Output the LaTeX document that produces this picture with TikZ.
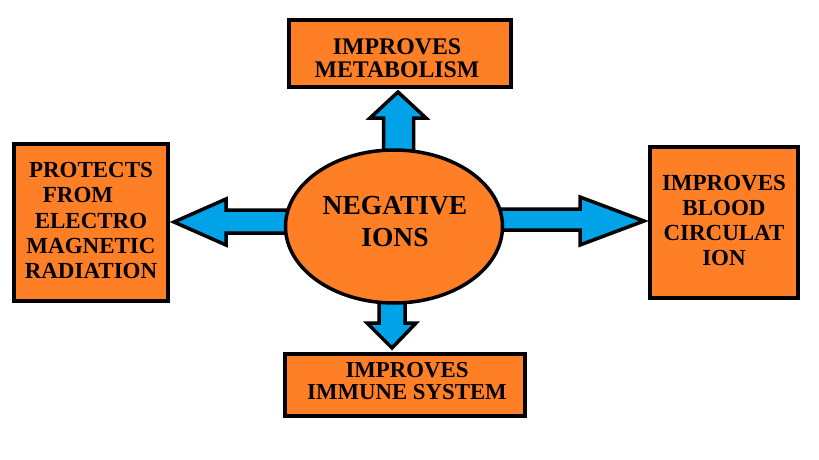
\documentclass[tikz,border=0pt]{standalone}
\usepackage{fontspec}
\setmainfont{Liberation Serif}
\usetikzlibrary{shapes.geometric,calc}
\definecolor{ionorange}{HTML}{FF7F27}
\definecolor{ionblue}{HTML}{00A2E8}
\begin{document}
\begin{tikzpicture}[x=1pt,y=-1pt,
  box/.style={draw=black, fill=ionorange, line width=4.5pt, inner sep=0pt},
  boxtext/.style={inner sep=0pt, align=center, font=\fontsize{23}{25.3}\selectfont\bfseries},
  blockarrow/.style={draw=black, fill=ionblue, line width=3.5pt, line join=miter},
  hub/.style={ellipse, draw=black, fill=ionorange, line width=3.5pt, inner sep=0pt,
    minimum width=217pt, minimum height=153pt}]
\useasboundingbox (0,0) rectangle (819,460);
\fill[white] (0,0) rectangle (819,460);

% block arrows
\draw[blockarrow] (383.5,165) -- (383.5,118) -- (370,118) -- (398,92) -- (426,118) -- (413.5,118) -- (413.5,165) -- cycle;
\draw[blockarrow] (300,210) -- (226,210) -- (226,199) -- (174,222) -- (226,245) -- (226,233) -- (300,233) -- cycle;
\draw[blockarrow] (490,209) -- (580,209) -- (580,197) -- (644,221) -- (580,245) -- (580,230) -- (490,230) -- cycle;
\draw[blockarrow] (379,290) -- (379,323) -- (367,323) -- (392,348) -- (416,323) -- (405,323) -- (405,290) -- cycle;

% centre
\node[hub] (ions) at (394,226.5) {};
\node[boxtext, font=\fontsize{27.5}{32}\selectfont\bfseries] (ionsT) at ($(ions)+(1,-4.5)$) {NEGATIVE\\IONS};

% boxes
\node[box, minimum width=222pt, minimum height=67pt] (meta) at (400,53.5) {};
\node[boxtext, font=\fontsize{23.8}{23.5}\selectfont\bfseries] (metaT) at ($(meta)+(-3,4.5)$) {IMPROVES\\METABOLISM};

\node[box, minimum width=154pt, minimum height=157pt] (prot) at (91,222.5) {};
\node[boxtext] (protT) at ($(prot)+(0,-2)$) {PROTECTS\\FROM\rule{26pt}{0pt}\\ELECTRO\\MAGNETIC\\RADIATION};

\node[box, minimum width=148pt, minimum height=151pt] (blood) at (724,222.5) {};
\node[boxtext] (bloodT) at ($(blood)+(0,-2)$) {IMPROVES\\BLOOD\\CIRCULAT\\ION};

\node[box, minimum width=240pt, minimum height=62pt] (imm) at (405,385) {};
\node[boxtext, font=\fontsize{22.8}{22.5}\selectfont\bfseries] (immT) at ($(imm)+(2,-4)$) {IMPROVES\\IMMUNE SYSTEM};
\end{tikzpicture}
\end{document}
